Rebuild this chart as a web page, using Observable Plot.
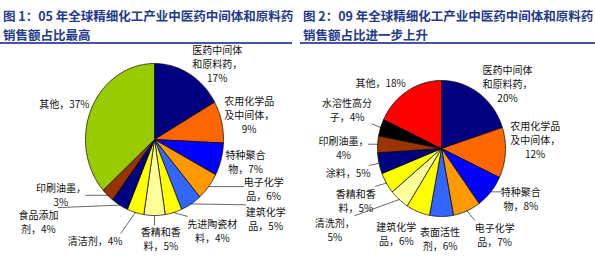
<!DOCTYPE html>
<html><head><meta charset="utf-8">
<script src="https://cdn.jsdelivr.net/npm/d3@7"></script>
<script src="https://cdn.jsdelivr.net/npm/@observablehq/plot@0.6"></script>
<style>
body{margin:0;background:#fff;font-family:"Noto Sans CJK SC",sans-serif;}
#wrap{position:relative;width:595px;height:256px;overflow:hidden;background:#fff;}
.title{position:absolute;top:6px;font-weight:bold;font-size:12.5px;line-height:19px;color:#233a8e;white-space:nowrap;}
.rule{position:absolute;top:42px;height:2px;background:#4a52a6;}
.chart{position:absolute;top:46px;}
</style></head><body>
<div id="wrap">
  <div class="title" style="left:3px">图 1：05 年全球精细化工产业中医药中间体和原料药<br>销售额占比最高</div>
  <div class="title" style="left:303px">图 2：09 年全球精细化工产业中医药中间体和原料药<br>销售额占比进一步上升</div>
  <div class="rule" style="left:0;width:292px"></div>
  <div class="rule" style="left:300px;width:295px"></div>
  <div class="chart" id="c1" style="left:0"></div>
  <div class="chart" id="c2" style="left:298px"></div>
</div>
<script>
// ---------- DATA ----------
const cats05 = ["医药中间体和原料药","农用化学品及中间体","特种聚合物","电子化学品","建筑化学品","先进陶瓷材料","香精和香料","清洁剂","食品添加剂","印刷油墨","其他"];
const vals05 = [17, 9, 7, 6, 5, 4, 5, 4, 4, 3, 37];
const labelText05 = ["医药中间体\n和原料药，\n","农用化学品\n及中间体，\n","特种聚合\n物，","电子化学\n品，","建筑化学\n品，","先进陶瓷材\n料，","香精和香\n料，","清洁剂，","食品添加\n剂，","印刷油墨，\n","其他，"];

const cats09 = ["医药中间体和原料药","农用化学品及中间体","特种聚合物","电子化学品","表面活性剂","建筑化学品","清洗剂","香精和香料","涂料","印刷油墨","水溶性高分子","其他"];
const vals09 = [20, 12, 8, 7, 6, 6, 5, 5, 5, 4, 4, 18];
const labelText09 = ["医药中间体\n和原料药，\n","农用化学品\n及中间体，\n","特种聚合\n物，","电子化学\n品，","表面活性\n剂，","建筑化学\n品，","清洗剂，\n","香精和香\n料，","涂料，","印刷油墨，\n","水溶性高分\n子，","其他，"];

// ---------- STYLE / LAYOUT ----------
const colors05 = ["#000080","#FF6600","#0000FF","#FF9900","#3366FF","#FFFF00","#FFFF99","#FFFF00","#000080","#993300","#99CC00"];
const colors09 = ["#000080","#FF6600","#0000FF","#FF9900","#3366FF","#FFFF00","#FFFF99","#FFFF00","#000080","#993300","#000000","#FF0000"];
// label placement (distance in radii, angular shift in degrees from slice middle), leader flags
const dist05 = [1.35,1.41,1.35,1.71,1.92,1.46,1.31,1.58,2.0,1.54,1.39];
const turn05 = [12,0,-3,-16,-25,-19,-4,17,27,19,-4];
const lead05 = [0,0,0,1,1,1,1,1,1,1,0];
const dist09 = [1.41,1.47,1.44,1.51,1.32,1.43,2.05,1.54,1.5,1.53,1.58,1.36];
const turn09 = [11,-9,-9,-10,1,8,13,1,-1,-3,3,-12];
const lead09 = [0,0,1,1,0,0,1,1,1,1,1,0];

const FS = 10, LH = 1.4;
function textW(s){let w=0;for(const c of s){w+= /[\x00-\x7f]/.test(c)?0.58:1;}return w*FS;}

function pieChart({vals, labelText, colors, dist, turn, lead, width, cx, cy, rx, ry}) {
  const total = d3.sum(vals);
  const rad = a => a*Math.PI/180;
  let acc = 0;
  const pts = [], labs = [], leads = [];
  vals.forEach((v,i) => {
    const a0 = acc/total*360, a1 = (acc+v)/total*360; acc += v;
    pts.push({i, x:0, y:0});
    const n = Math.max(2, Math.ceil(a1-a0));
    for (let k=0;k<=n;k++){const a=rad(a0+(a1-a0)*k/n);pts.push({i,x:Math.sin(a),y:Math.cos(a)});}
    pts.push({i, x:0, y:0});
    const mid = (a0+a1)/2, la = rad(mid+turn[i]);
    const text = labelText[i] + v + "%";
    const lx = dist[i]*Math.sin(la), ly = dist[i]*Math.cos(la);
    labs.push({x:lx, y:ly, text});
    if (lead[i]) {
      const lines = text.split("\n");
      const hw = d3.max(lines, textW)/2/rx, hh = lines.length*FS*LH/2/ry;
      const sx = Math.sin(rad(mid)), sy = Math.cos(rad(mid));
      const ex = Math.max(lx-hw, Math.min(lx+hw, sx)), ey = Math.max(ly-hh, Math.min(ly+hh, sy));
      leads.push({i, x:sx, y:sy}, {i, x:ex, y:ey});
    }
  });
  return Plot.plot({
    width, height: 210, margin: 0,
    x: {domain:[-1,1], range:[cx-rx, cx+rx], axis:null},
    y: {domain:[-1,1], range:[cy+ry, cy-ry], axis:null},
    color: {type:"identity"},
    style: {fontFamily:'"Noto Sans CJK SC", sans-serif', background:"transparent", overflow:"visible"},
    marks: [
      Plot.line(pts, {x:"x", y:"y", z:"i", fill: d => colors[d.i], stroke:"#000", strokeWidth:0.7, strokeLinejoin:"round"}),
      Plot.line(leads, {x:"x", y:"y", z:"i", stroke:"#000", strokeWidth:0.6}),
      Plot.text(labs, {x:"x", y:"y", text:"text", fontSize:FS, lineHeight:LH, textAnchor:"middle", fill:"#111"})
    ]
  });
}

document.getElementById("c1").appendChild(pieChart({vals:vals05, labelText:labelText05, colors:colors05, dist:dist05, turn:turn05, lead:lead05, width:296, cx:154, cy:93, rx:69, ry:76}));
document.getElementById("c2").appendChild(pieChart({vals:vals09, labelText:labelText09, colors:colors09, dist:dist09, turn:turn09, lead:lead09, width:297, cx:143, cy:102, rx:64, ry:68}));
</script>
</body></html>
